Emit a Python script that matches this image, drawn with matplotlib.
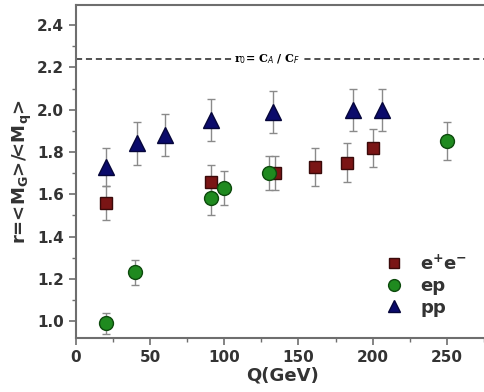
import matplotlib
matplotlib.use("Agg")
import matplotlib.pyplot as plt
from matplotlib.lines import Line2D
from matplotlib.ticker import MultipleLocator

# e+e-
ee_q = [20, 91, 134, 161, 183, 200]
ee_r = [1.56, 1.66, 1.70, 1.73, 1.75, 1.82]
ee_err = [0.08, 0.08, 0.08, 0.09, 0.09, 0.09]

# ep
ep_q = [20, 40, 91, 100, 130, 250]
ep_r = [0.99, 1.23, 1.58, 1.63, 1.70, 1.85]
ep_err = [0.05, 0.06, 0.08, 0.08, 0.08, 0.09]

# pp
pp_q = [20, 41, 60, 91, 133, 187, 206]
pp_r = [1.73, 1.84, 1.88, 1.95, 1.99, 2.00, 2.00]
pp_err = [0.09, 0.10, 0.10, 0.10, 0.10, 0.10, 0.10]

r0 = 2.24

fig = plt.figure(figsize=(4.85, 3.92), dpi=100)
ax = fig.add_axes([76 / 485, 1 - 338 / 392, 1 - 76 / 485 + 0.01, (338 - 5) / 392])

styles = {
    "ee": dict(marker="s", ms=9, mfc="#7a1515", mec="#3a0a0a"),
    "ep": dict(marker="o", ms=10, mfc="#1f8a1f", mec="#0d4a0d"),
    "pp": dict(marker="^", ms=11, mfc="#0b0b6b", mec="#05053a"),
}

err_kw = dict(ls="none", ecolor="#8a8a8a", elinewidth=1.0, capsize=3, capthick=1.0, zorder=2)
ax.errorbar(ee_q, ee_r, yerr=ee_err, **styles["ee"], **err_kw)
ax.errorbar(ep_q, ep_r, yerr=ep_err, **styles["ep"], **err_kw)
ax.errorbar(pp_q, pp_r, yerr=pp_err, **styles["pp"], **err_kw)

ax.axhline(r0, color="#222222", ls=(0, (4, 2.5)), lw=1.1, zorder=1)
ax.text(129, r0, "r$_0$= C$_A$ / C$_F$", family="serif", fontsize=8, fontweight="bold",
        ha="center", va="center", bbox=dict(fc="white", ec="none", pad=1), zorder=3)

ax.set_xlim(0, 279)
ax.set_ylim(0.92, 2.495)
ax.xaxis.set_major_locator(MultipleLocator(50))
ax.xaxis.set_minor_locator(MultipleLocator(25))
ax.yaxis.set_major_locator(MultipleLocator(0.2))
ax.yaxis.set_minor_locator(MultipleLocator(0.1))
ax.yaxis.set_major_formatter(plt.FuncFormatter(lambda v, p: f"{v:.1f}"))

for s in ax.spines.values():
    s.set_color("#6e6e6e")
    s.set_linewidth(1.5)
ax.tick_params(which="both", direction="out", color="#6e6e6e", labelcolor="#333333")
ax.tick_params(which="major", length=5, width=1.2, labelsize=11)
ax.tick_params(which="minor", length=3, width=1)
for lab in ax.get_xticklabels() + ax.get_yticklabels():
    lab.set_fontweight("bold")

ax.set_xlabel("Q(GeV)", fontsize=13, fontweight="bold", color="#333333", labelpad=1)
ax.set_ylabel(r"r=<M$_\mathbf{G}$>/<M$_\mathbf{q}$>", fontsize=13, fontweight="bold",
              color="#333333", labelpad=2)

handles = [Line2D([], [], ls="none", **dict(styles[k], ms=styles[k]["ms"] * 0.85))
           for k in ("ee", "ep", "pp")]
labels = [r"e$^\mathbf{+}$e$^\mathbf{-}$", "ep", "pp"]
leg = ax.legend(handles, labels, loc="lower right", bbox_to_anchor=(0.985, 0.015), frameon=False,
                fontsize=13, handlelength=1.5, handletextpad=0.7, labelspacing=0.2)
for t in leg.get_texts():
    t.set_fontweight("bold")
    t.set_color("#333333")

fig.savefig("out.png", dpi=100)
